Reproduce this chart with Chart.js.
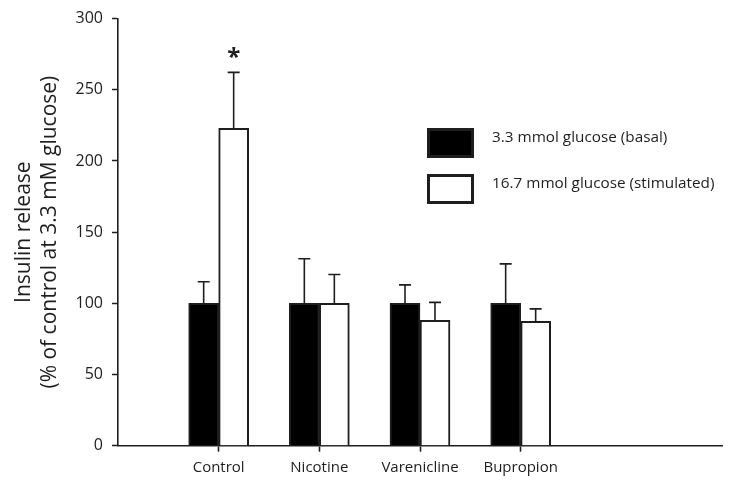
<!DOCTYPE html>
<html>
<head>
<meta charset="utf-8">
<script src="https://cdn.jsdelivr.net/npm/chart.js@4/dist/chart.umd.min.js"></script>
<style>
  html, body { margin: 0; padding: 0; background: #fff; }
  #wrap { width: 730px; height: 485px; }
</style>
</head>
<body>
<div id="wrap"><canvas id="c"></canvas></div>
<script>
'use strict';
// ── Data ──────────────────────────────────────────────────
const categories = ['Control', 'Nicotine', 'Varenicline', 'Bupropion'];
const basal      = [100, 100, 100, 100];
const basalErr   = [15.2, 31.3, 13, 27.7];
const stimulated = [222.9, 100, 88.1, 87.4];
const stimErr    = [39.3, 20.3, 12.6, 8.7];
const stimSig    = ['*', '', '', ''];
const yTicks     = [0, 50, 100, 150, 200, 250, 300];

const FONT = '"Open Sans", sans-serif';
const INK = '#1e1e1e';

const toXY = vals => vals.map((v, i) => ({ x: i, y: v }));

// ── Error bars + significance marks ───────────────────────
const errorBars = {
  id: 'errorBars',
  afterDatasetsDraw(chart) {
    const { ctx, scales: { y } } = chart;
    ctx.save();
    ctx.strokeStyle = INK;
    ctx.lineWidth = 1.6;
    chart.data.datasets.forEach((ds, di) => {
      const meta = chart.getDatasetMeta(di);
      meta.data.forEach((bar, i) => {
        const top = y.getPixelForValue(ds.data[i].y + ds.err[i]);
        const base = y.getPixelForValue(ds.data[i].y);
        ctx.beginPath();
        ctx.moveTo(bar.x, base); ctx.lineTo(bar.x, top);
        ctx.moveTo(bar.x - 6, top); ctx.lineTo(bar.x + 6, top);
        ctx.stroke();
        if (ds.sig && ds.sig[i]) {
          ctx.fillStyle = INK;
          ctx.font = `bold 24px ${FONT}`;
          ctx.textAlign = 'center';
          ctx.textBaseline = 'middle';
          ctx.fillText(ds.sig[i], bar.x, top - 14);
        }
      });
    });
    ctx.restore();
  }
};

// ── Legend inside the plot ────────────────────────────────
const boxLegend = {
  id: 'boxLegend',
  afterDraw(chart, args, opts) {
    const { ctx } = chart;
    ctx.save();
    chart.data.datasets.forEach((ds, i) => {
      const y0 = opts.y + i * opts.gap;
      ctx.fillStyle = ds.backgroundColor;
      ctx.fillRect(opts.x, y0, opts.w, opts.h);
      ctx.strokeStyle = INK;
      ctx.lineWidth = 3;
      ctx.strokeRect(opts.x + 1.5, y0 + 1.5, opts.w - 3, opts.h - 3);
      ctx.fillStyle = INK;
      ctx.font = `15.3px ${FONT}`;
      ctx.textAlign = 'left';
      ctx.textBaseline = 'middle';
      ctx.fillText(ds.label, opts.x + opts.w + 18, y0 + opts.h / 2 - 5);
    });
    ctx.restore();
  }
};

new Chart(document.getElementById('c'), {
  type: 'bar',
  data: {
    datasets: [
      { label: '3.3 mmol glucose (basal)', data: toXY(basal), err: basalErr,
        backgroundColor: '#000', borderColor: INK, borderWidth: 2, barThickness: 30 },
      { label: '16.7 mmol glucose (stimulated)', data: toXY(stimulated), err: stimErr, sig: stimSig,
        backgroundColor: '#fff', borderColor: INK, borderWidth: 2, barThickness: 30 },
    ]
  },
  options: {
    responsive: true, maintainAspectRatio: false, animation: false,
    layout: { padding: { top: 12, right: 8, bottom: 0, left: 0 } },
    plugins: {
      legend: { display: false },
      tooltip: { enabled: false },
      boxLegend: { x: 427, y: 128, w: 47, h: 30, gap: 46 },
    },
    scales: {
      x: {
        type: 'linear', min: -1, max: 5, offset: false,
        afterBuildTicks: s => { s.ticks = categories.map((_, i) => ({ value: i })); },
        afterFit: s => { s.height = 39.3; },
        grid: { offset: false, drawOnChartArea: false, drawTicks: true, tickLength: 6, tickColor: INK, tickWidth: 1.6 },
        border: { display: true, color: INK, width: 1.6 },
        ticks: { color: INK, font: { family: FONT, size: 15 }, padding: 7,
                 maxRotation: 0, autoSkip: false,
                 callback: v => categories[v] ?? '' },
      },
      y: {
        min: 0, max: 300,
        afterBuildTicks: s => { s.ticks = yTicks.map(v => ({ value: v })); },
        afterFit: s => { s.width = 118; },
        grid: { drawOnChartArea: false, drawTicks: true, tickLength: 6, tickColor: INK, tickWidth: 1.5 },
        border: { display: true, color: INK, width: 1.6 },
        ticks: { color: INK, font: { family: FONT, size: 16 }, padding: 9 },
        title: {
          display: true,
          text: ['Insulin release', '(% of control at 3.3 mM glucose)'],
          color: INK, font: { family: FONT, size: 21, lineHeight: 1.25 },
          padding: { top: 11, bottom: 0 },
        },
      },
    },
  },
  plugins: [errorBars, boxLegend],
});
</script>
</body>
</html>
